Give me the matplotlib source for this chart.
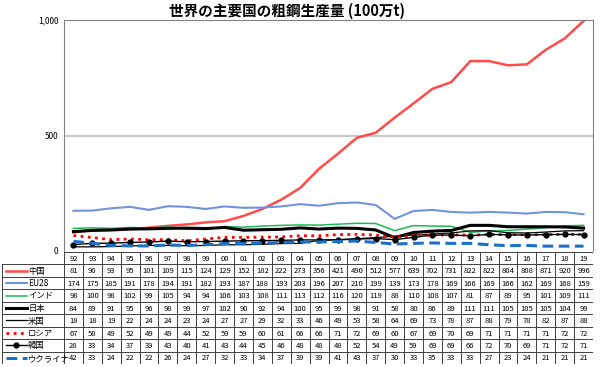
#!/usr/bin/env python3
"""Steel production of major countries (line chart with data table below)."""

import numpy as np
import matplotlib
matplotlib.use('Agg')
import matplotlib.pyplot as plt

plt.rcParams['font.family'] = ['Noto Sans CJK JP', 'DejaVu Sans']

#- data (100万t)
years = ['92', '93', '94', '95', '96', '97', '98', '99', '00', '01', '02', '03', '04', '05',
         '06', '07', '08', '09', '10', '11', '12', '13', '14', '15', '16', '17', '18', '19']

china = [81, 90, 93, 95, 101, 109, 115, 124, 129, 152, 182, 222, 273, 356,
         421, 490, 512, 577, 639, 702, 731, 822, 822, 804, 808, 871, 920, 996]
eu28 = [174, 175, 185, 191, 178, 194, 191, 182, 193, 187, 188, 193, 203, 196,
        207, 210, 199, 139, 173, 178, 169, 166, 169, 166, 162, 169, 168, 159]
india = [98, 100, 98, 102, 99, 105, 94, 94, 106, 103, 108, 111, 113, 112,
         116, 120, 119, 88, 110, 108, 107, 81, 87, 89, 95, 101, 109, 111]
japan = [84, 89, 91, 95, 96, 98, 99, 97, 102, 90, 92, 94, 100, 95,
         99, 98, 91, 58, 80, 86, 89, 111, 111, 105, 105, 105, 104, 99]
usa = [18, 18, 19, 22, 24, 24, 23, 24, 27, 27, 29, 32, 33, 46,
       49, 53, 58, 64, 69, 73, 78, 87, 88, 79, 78, 82, 87, 88]
russia = [67, 58, 49, 52, 49, 49, 44, 52, 59, 59, 60, 61, 66, 66,
          71, 72, 69, 60, 67, 69, 70, 69, 71, 71, 71, 71, 72, 72]
korea = [28, 33, 34, 37, 39, 43, 40, 41, 43, 44, 45, 46, 48, 48,
         48, 52, 54, 49, 59, 69, 69, 66, 72, 70, 69, 71, 72, 71]
ukraine = [42, 33, 24, 22, 22, 26, 24, 27, 32, 33, 34, 37, 39, 39,
           41, 43, 37, 30, 33, 35, 33, 33, 27, 23, 24, 21, 21, 21]

#- series: (label, values, style)
series = [
    ('中国', china, dict(color='#FF4B4B', lw=1.8)),
    ('EU28', eu28, dict(color='#7193DC', lw=1.5)),
    ('インド', india, dict(color='#1DB954', lw=1.1)),
    ('日本', japan, dict(color='black', lw=2.2)),
    ('米国', usa, dict(color='black', lw=0.9)),
    ('ロシア', russia, dict(color='#FF0000', lw=2.0, ls=(0, (1, 1.6)))),
    ('韓国', korea, dict(color='black', lw=1.0, marker='o', ms=3.5)),
    ('ウクライナ', ukraine, dict(color='#1C70C8', lw=2.2, ls=(0, (3.5, 1.8)))),
]

W, H = 600, 367
fig = plt.figure(figsize=(W / 100, H / 100), dpi=100)

#- main plot area (pixel geometry from the reference)
px_l, px_r, px_t, px_b = 64, 593, 20, 251
ax = fig.add_axes([px_l / W, 1 - px_b / H, (px_r - px_l) / W, (px_b - px_t) / H])
x = np.arange(len(years))
for name, vals, st in series:
    ax.plot(x, vals, **st)
ax.set_xlim(-0.5, len(years) - 0.5)
ax.set_ylim(0, 1000)
ax.set_yticks([0, 500, 1000])
ax.set_yticklabels(['0', '500', '1,000'], fontsize=6)
ax.set_xticks([])
ax.tick_params(axis='y', length=0, pad=4)
ax.axhline(500, color='#C8C8C8', lw=1.5, zorder=0)
for s in ax.spines.values():
    s.set_color('#808080')
    s.set_linewidth(0.8)
ax.spines['bottom'].set_visible(False)

fig.text(287 / W, 1 - 11 / H, '世界の主要国の粗鋼生産量 (100万t)', ha='center', va='center',
         fontsize=10.5, fontweight='bold')

#- data table drawn under the plot, columns aligned with the x axis
tb_l, tb_t, tb_b = 2, 252, 364
colw = (px_r - px_l) / len(years)
lab_w = (px_l - tb_l) / colw
tax = fig.add_axes([tb_l / W, 1 - tb_b / H, (px_r - tb_l) / W, (tb_b - tb_t) / H])
tax.set_xlim(-0.5 - lab_w, len(years) - 0.5)
nrow = len(series) + 1
tax.set_ylim(nrow, 0)
tax.axis('off')

lc = '#404040'
x0 = -0.5 - lab_w
x1 = len(years) - 0.5
# horizontal lines
tax.plot([-0.5, x1], [0, 0], color=lc, lw=0.7)
for r in range(1, nrow + 1):
    tax.plot([x0, x1], [r, r], color=lc, lw=0.7)
# vertical lines
tax.plot([x0, x0], [1, nrow], color=lc, lw=0.7)
for c in range(len(years) + 1):
    tax.plot([c - 0.5, c - 0.5], [0, nrow], color=lc, lw=0.7)

for i, yr in enumerate(years):
    tax.text(i, 0.55, yr, ha='center', va='center', fontsize=5.5)
for r, (name, vals, st) in enumerate(series, start=1):
    yc = r + 0.5
    sx = np.linspace(x0 + 0.2, x0 + 1.3, 3)
    tax.plot(sx, [yc] * 3, markevery=[1], **st)
    tax.text(x0 + 1.38, yc + 0.05, name, ha='left', va='center', fontsize=6)
    for i, v in enumerate(vals):
        tax.text(i, yc + 0.05, str(v), ha='center', va='center', fontsize=5.5)

fig.savefig('out.png', dpi=100)
